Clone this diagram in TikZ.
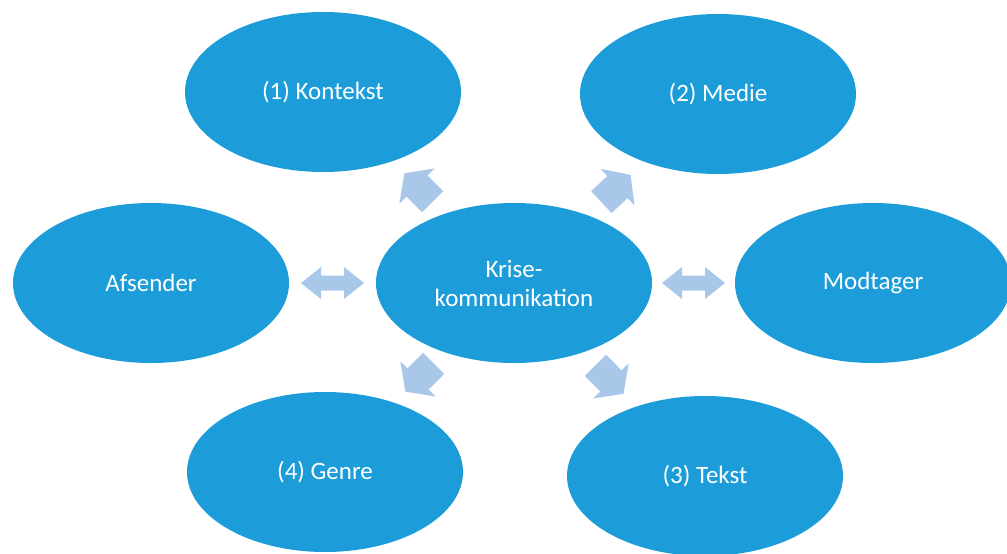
\documentclass[tikz,border=0pt]{standalone}
\usepackage{fontspec}
\setmainfont{Carlito}
\usetikzlibrary{shapes.geometric}
\definecolor{bubblefill}{RGB}{28,157,217}
\definecolor{linkfill}{RGB}{169,199,233}
\tikzset{
  bubble/.style={ellipse, fill=bubblefill, minimum width=276pt, minimum height=160pt,
    inner sep=0pt, text=white, align=center, font=\fontsize{25}{29}\selectfont},
  % block arrow pointing from the hub towards an outer bubble
  outarrow/.pic={\fill[linkfill] (-20,-15) -- (2,-15) -- (2,-25) -- (20,0) -- (2,25)
    -- (2,15) -- (-20,15) -- cycle;},
  % two-headed block arrow between the hub and a side bubble
  twoarrow/.pic={\fill[linkfill] (-31.5,0) -- (-11.5,-16) -- (-11.5,-7.5) -- (11.5,-7.5)
    -- (11.5,-16) -- (31.5,0) -- (11.5,16) -- (11.5,7.5) -- (-11.5,7.5) -- (-11.5,16) -- cycle;},
  onlink/.style={sloped, allow upside down, pos=0.5}
}
\begin{document}
\begin{tikzpicture}[x=1pt,y=-1pt]
\useasboundingbox (0,0) rectangle (1007,554);
\clip (0,0) rectangle (1007,554);

\node[bubble] (krise)    at (514,283) {Krise-\\kommunikation};
\node[bubble] (kontekst) at (323,92)  {(1) Kontekst};
\node[bubble] (medie)    at (718,94)  {(2) Medie};
\node[bubble] (afsender) at (151,283) {Afsender};
\node[bubble] (modtager) at (873,283) {Modtager};
\node[bubble] (genre)    at (325,472) {(4) Genre};
\node[bubble] (tekst)    at (705,476) {(3) Tekst};

\path (krise.center) -- pic[onlink]{outarrow} (kontekst.center);
\path (krise.center) -- pic[onlink]{outarrow} (medie.center);
\path (krise.center) -- pic[onlink]{outarrow} (genre.center);
\path (krise.center) -- pic[onlink]{outarrow} (tekst.center);
\path (krise.center) -- pic[onlink]{twoarrow} (afsender.center);
\path (krise.center) -- pic[onlink]{twoarrow} (modtager.center);
\end{tikzpicture}
\end{document}
